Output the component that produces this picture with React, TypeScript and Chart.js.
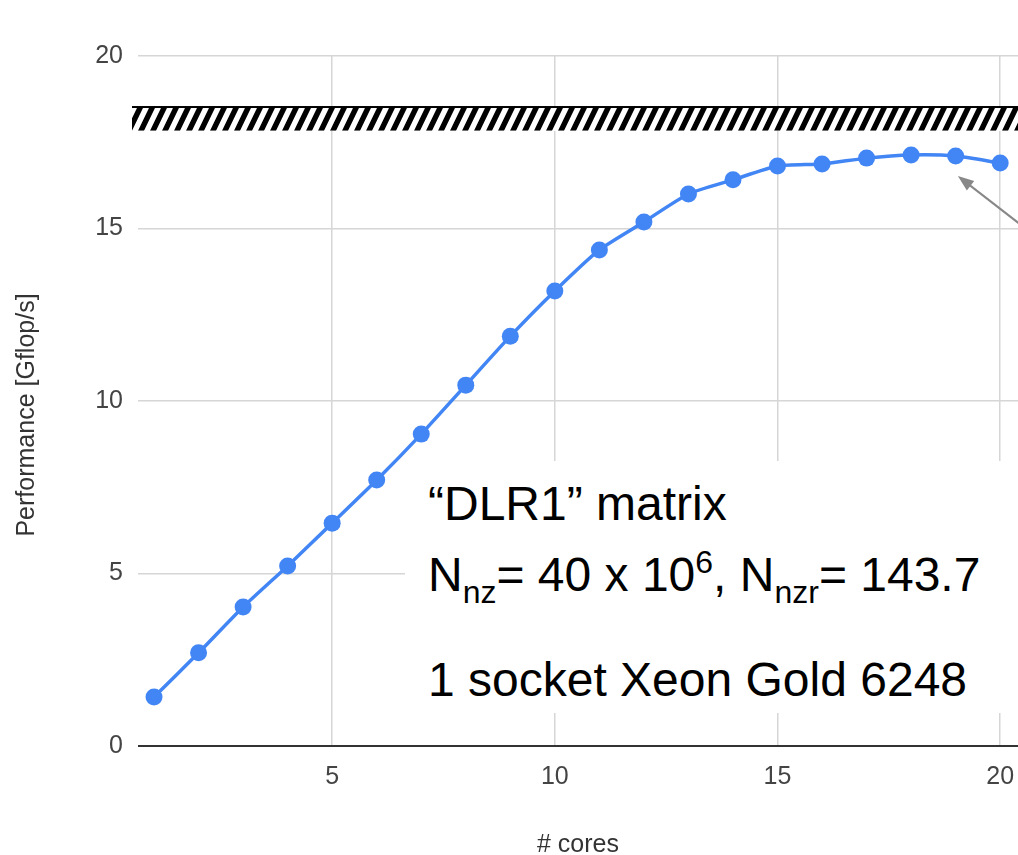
import React, { useEffect, useRef } from "react";
import { Chart, registerables } from "chart.js";

Chart.register(...registerables);

const cores = [1, 2, 3, 4, 5, 6, 7, 8, 9, 10, 11, 12, 13, 14, 15, 16, 17, 18, 19, 20];
const gflops = [1.42, 2.7, 4.03, 5.22, 6.46, 7.71, 9.04, 10.46, 11.88, 13.19, 14.38, 15.19, 16.0, 16.41, 16.81, 16.87, 17.04, 17.13, 17.1, 16.9];
const xTickValues = [5, 10, 15, 20];
const yTickValues = [0, 5, 10, 15, 20];
const peakBand = [17.83, 18.55];
const arrowTip = { x: 19.05, y: 16.52 };
const arrowTail = { x: 20.67, y: 14.9 };
const xTitle = "# cores";
const yTitle = "Performance [Gflop/s]";

const FONT = "'Liberation Sans', Arial, sans-serif";

const bandPlugin = {
  id: "bandPlugin",
  beforeDatasetsDraw(chart: any) {
    const { ctx, chartArea, scales } = chart;
    const y = scales.y;
    const yt = y.getPixelForValue(peakBand[1]);
    const yb = y.getPixelForValue(peakBand[0]);
    const x0 = chartArea.left - 6;
    const x1 = chart.width;
    ctx.save();
    ctx.fillStyle = "#ffffff";
    ctx.fillRect(x0, yt, x1 - x0, yb - yt);
    ctx.fillStyle = "#000000";
    ctx.fillRect(x0, yt, x1 - x0, 2);
    ctx.beginPath();
    ctx.rect(x0, yt + 2, x1 - x0, yb - yt - 2);
    ctx.clip();
    const h = yb - yt;
    const dx = h * 0.48;
    const period = 12;
    const w = 6;
    ctx.beginPath();
    for (let k = x0 - 30; k < x1 + 30; k += period) {
      ctx.moveTo(k, yb);
      ctx.lineTo(k + w, yb);
      ctx.lineTo(k + w + dx, yt);
      ctx.lineTo(k + dx, yt);
      ctx.closePath();
    }
    ctx.fill();
    ctx.restore();
  },
  afterDatasetsDraw(chart: any) {
    const { ctx, scales } = chart;
    const tx = scales.x.getPixelForValue(arrowTip.x);
    const ty = scales.y.getPixelForValue(arrowTip.y);
    const sx = scales.x.getPixelForValue(arrowTail.x);
    const sy = scales.y.getPixelForValue(arrowTail.y);
    const ang = Math.atan2(ty - sy, tx - sx);
    const headLen = 16;
    const headW = 6;
    ctx.save();
    ctx.strokeStyle = "#888888";
    ctx.fillStyle = "#888888";
    ctx.lineWidth = 2;
    ctx.beginPath();
    ctx.moveTo(sx, sy);
    ctx.lineTo(tx - Math.cos(ang) * headLen * 0.8, ty - Math.sin(ang) * headLen * 0.8);
    ctx.stroke();
    ctx.beginPath();
    ctx.moveTo(tx, ty);
    const bx = tx - Math.cos(ang) * headLen;
    const by = ty - Math.sin(ang) * headLen;
    ctx.lineTo(bx + Math.sin(ang) * headW, by - Math.cos(ang) * headW);
    ctx.lineTo(bx - Math.sin(ang) * headW, by + Math.cos(ang) * headW);
    ctx.closePath();
    ctx.fill();
    ctx.restore();
  },
  afterDraw(chart: any) {
    const { ctx } = chart;
    ctx.save();
    ctx.translate(33.5, 415);
    ctx.rotate(-Math.PI / 2);
    ctx.font = `25px ${FONT}`;
    ctx.fillStyle = "#333333";
    ctx.textAlign = "center";
    ctx.textBaseline = "alphabetic";
    ctx.fillText(yTitle, 0, 0);
    ctx.restore();
  },
};

export default function App() {
  const canvasRef = useRef<HTMLCanvasElement | null>(null);

  useEffect(() => {
    if (!canvasRef.current) return;
    const chart = new Chart(canvasRef.current, {
      type: "line",
      data: {
        labels: cores,
        datasets: [
          {
            data: cores.map((c, i) => ({ x: c, y: gflops[i] })),
            borderColor: "#4285F4",
            backgroundColor: "#4285F4",
            borderWidth: 3.5,
            pointRadius: 8.5,
            pointBorderWidth: 0,
            pointBackgroundColor: "#4285F4",
            tension: 0.2,
            fill: false,
          },
        ],
      },
      options: {
        animation: false,
        responsive: true,
        maintainAspectRatio: false,
        layout: { autoPadding: false, padding: { top: 56, left: 0, right: 0, bottom: 0 } },
        plugins: {
          legend: { display: false },
          tooltip: { enabled: false },
        },
        scales: {
          x: {
            type: "linear",
            min: 0.64,
            max: 20.4,
            border: { display: false },
            grid: { color: "#d6d6d6", lineWidth: 1.5, drawTicks: false },
            afterBuildTicks: (scale: any) => {
              scale.ticks = xTickValues.map((v) => ({ value: v }));
            },
            afterFit: (scale: any) => {
              scale.height = 109;
              scale.paddingLeft = 0;
              scale.paddingRight = 0;
            },
            ticks: {
              padding: 16,
              color: "#444444",
              font: { family: FONT, size: 25 },
              maxRotation: 0,
              autoSkip: false,
            },
            title: {
              display: true,
              text: xTitle,
              color: "#333333",
              font: { family: FONT, size: 25 },
              padding: { top: 0, bottom: -5 },
            },
          },
          y: {
            type: "linear",
            min: 0,
            max: 20,
            border: { display: false },
            grid: {
              color: (ctx: any) => (ctx.tick && ctx.tick.value === 0 ? "#333333" : "#d6d6d6"),
              lineWidth: (ctx: any) => (ctx.tick && ctx.tick.value === 0 ? 2 : 1.5),
              drawTicks: false,
            },
            afterBuildTicks: (scale: any) => {
              scale.ticks = yTickValues.map((v) => ({ value: v }));
            },
            afterFit: (scale: any) => {
              scale.width = 138;
              scale.paddingTop = 0;
              scale.paddingBottom = 0;
            },
            ticks: {
              padding: 15,
              color: "#444444",
              font: { family: FONT, size: 25 },
            },
            title: { display: false },
          },
        },
      },
      plugins: [bandPlugin],
    });
    return () => chart.destroy();
  }, []);

  const textStyle: React.CSSProperties = {
    position: "absolute",
    left: 23,
    fontFamily: FONT,
    fontSize: 48,
    lineHeight: "48px",
    color: "#000",
    whiteSpace: "nowrap",
  };
  const sub: React.CSSProperties = { fontSize: 32, position: "relative", top: 12 };
  const sup: React.CSSProperties = { fontSize: 32, position: "relative", top: -18 };

  return (
    <div style={{ position: "fixed", left: 0, top: 0, width: 1018, height: 855, background: "#fff" }}>
      <canvas ref={canvasRef} />
      <div
        style={{
          position: "absolute",
          left: 405,
          top: 461,
          width: 613,
          height: 252,
          background: "#ffffff",
        }}
      >
        <div style={{ ...textStyle, top: 19 }}>“DLR1” matrix</div>
        <div style={{ ...textStyle, top: 90 }}>
          N<span style={sub}>nz</span>= 40 x 10<span style={sup}>6</span>, N<span style={sub}>nzr</span>= 143.7
        </div>
        <div style={{ ...textStyle, top: 195 }}>1 socket Xeon Gold 6248</div>
      </div>
    </div>
  );
}
